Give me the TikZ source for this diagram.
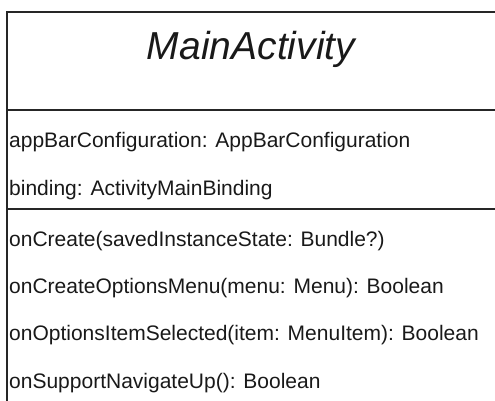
\documentclass[tikz,border=0pt]{standalone}
\usepackage{fontspec}
\setmainfont{Liberation Sans}
\begin{document}
\begin{tikzpicture}[x=1pt,y=-1pt,
  frame/.style={line width=1.3pt,black!85},
  member/.style={anchor=base west,inner sep=0pt,font=\fontsize{21}{25}\selectfont,text=black!90},
  title/.style={anchor=base,inner sep=0pt,font=\fontsize{39}{44}\selectfont\itshape,text=black!90}]
  \useasboundingbox (0,0) rectangle (495,401);
  % class box outline and compartment separators
  \coordinate (tl) at (7,12);
  \coordinate (tr) at (495,12);
  \coordinate (bl) at (7,401);
  \draw[frame] (tr) -- (tl) -- (bl);
  \draw[frame] (7,110) -- (495,110);
  \draw[frame] (7,209) -- (495,209);
  % class name
  \node[title] (name) at (251,60) {MainActivity};
  % attributes
  \node[member] (a1) at (9,147) {appBarConfiguration: AppBarConfiguration};
  \node[member] (a2) at (9,195) {binding: ActivityMainBinding};
  % operations
  \node[member] (m1) at (9,246) {onCreate(savedInstanceState: Bundle?)};
  \node[member] (m2) at (9,293) {onCreateOptionsMenu(menu: Menu): Boolean};
  \node[member] (m3) at (9,340) {onOptionsItemSelected(item: MenuItem): Boolean};
  \node[member] (m4) at (9,388) {onSupportNavigateUp(): Boolean};
\end{tikzpicture}
\end{document}
